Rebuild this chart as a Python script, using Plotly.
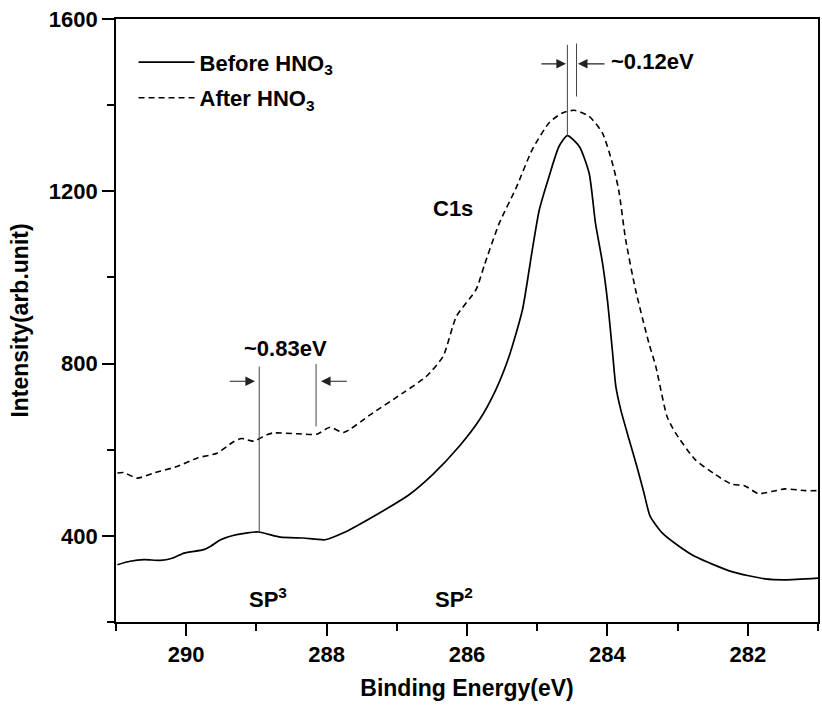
import plotly.graph_objects as go

# ---- data ----
before_ev = [290.98, 290.80, 290.60, 290.37, 290.20, 290.03, 289.75, 289.65, 289.51, 289.28,
             288.97, 288.66, 288.33, 288.02, 287.76, 287.29, 286.82, 286.49, 286.11, 285.82,
             285.59, 285.40, 285.21, 285.07, 284.97, 284.83, 284.69, 284.57, 284.40, 284.26,
             284.17, 284.07, 284.00, 283.93, 283.88, 283.81, 283.69, 283.58, 283.48, 283.39,
             283.22, 282.98, 282.75, 282.23, 281.75, 281.47, 281.00]
before_val = [333, 341, 345, 343, 348, 360, 368, 376, 391, 403,
              409, 397, 395, 391, 407, 449, 496, 542, 608, 670,
              739, 817, 925, 1064, 1157, 1235, 1304, 1329, 1304, 1242,
              1126, 1034, 948, 832, 747, 693, 623, 561, 500, 445,
              407, 376, 352, 317, 300, 298, 302]

after_ev = [290.98, 290.89, 290.70, 290.46, 290.13, 289.84, 289.56, 289.32, 289.21, 289.04,
            288.85, 288.76, 288.42, 288.14, 287.95, 287.76, 287.38, 286.91, 286.58, 286.34,
            286.15, 285.87, 285.75, 285.54, 285.30, 285.07, 284.83, 284.64, 284.47, 284.26,
            284.07, 283.93, 283.84, 283.74, 283.60, 283.41, 283.31, 283.15, 283.03, 282.75,
            282.46, 282.23, 282.04, 281.85, 281.66, 281.47, 281.18, 281.00]
after_val = [546, 547, 534, 546, 561, 581, 592, 619, 626, 620,
             635, 639, 637, 636, 652, 640, 681, 732, 770, 817,
             910, 972, 1030, 1126, 1208, 1297, 1359, 1382, 1388, 1374,
             1335, 1266, 1204, 1088, 972, 848, 793, 677, 639, 577,
             542, 520, 516, 498, 503, 509, 505, 505]

x_ticks = [290, 288, 286, 284, 282]
y_ticks = [400, 800, 1200, 1600]

# marker lines: (eV, y_from, y_to)
sp3_before = (288.96, 409, 793)
sp3_after = (288.15, 654, 799)
peak_before = (284.57, 1329, 1540)
peak_after = (284.44, 1420, 1543)

# arrows: (tail_eV, head_eV, y)
arrows = [(289.40, 289.02, 759), (287.69, 288.08, 759),
          (284.96, 284.59, 1496), (284.02, 284.42, 1496)]

labels = [
    ("~0.83eV", 288.58, 836, "center"),
    ("~0.12eV", 283.36, 1502, "center"),
    ("C1s", 286.20, 1161, "center"),
    ("SP<sup>3</sup>", 289.13, 256, "left"),
    ("SP<sup>2</sup>", 286.49, 256, "left"),
]

FONT = "Liberation Sans, Arial, sans-serif"

fig = go.Figure()
fig.add_trace(go.Scatter(x=before_ev, y=before_val, mode="lines", name="Before HNO<sub>3</sub>",
                         line=dict(color="black", width=1.7, shape="spline", smoothing=0.6),
                         legendgroup="a"))
fig.add_trace(go.Scatter(x=after_ev, y=after_val, mode="lines", name="After HNO<sub>3</sub>",
                         line=dict(color="black", width=1.6, dash="6px,4px", shape="spline", smoothing=0.6),
                         legendgroup="b"))

for (xe, y0, y1) in [sp3_before, sp3_after, peak_before, peak_after]:
    fig.add_shape(type="line", xref="x", yref="y", x0=xe, x1=xe, y0=y0, y1=y1,
                  line=dict(color="#444444", width=1))

for (tail, head, yv) in arrows:
    fig.add_annotation(x=head, y=yv, ax=tail, ay=yv, xref="x", yref="y", axref="x", ayref="y",
                       text="", showarrow=True, arrowhead=2, arrowsize=1.6, arrowwidth=1.2,
                       arrowcolor="#222222", standoff=0)

for (txt, xv, yv, anc) in labels:
    fig.add_annotation(x=xv, y=yv, xref="x", yref="y", text=txt, showarrow=False,
                       xanchor=anc, yanchor="middle",
                       font=dict(family=FONT, size=22, color="black", weight="bold"))

axis_common = dict(showline=True, linecolor="black", linewidth=1.7, mirror=True,
                   ticks="outside", tickwidth=1.5, tickcolor="black", ticklen=12,
                   showgrid=False, zeroline=False,
                   tickfont=dict(family=FONT, size=22, color="black", weight="bold"))

fig.update_xaxes(range=[291, 281], tickvals=x_ticks, ticktext=[str(v) for v in x_ticks],
                 minor=dict(dtick=1, tick0=0, ticklen=7, tickwidth=1.5, tickcolor="black", ticks="outside"),
                 title=dict(text="Binding Energy(eV)", standoff=14,
                            font=dict(family=FONT, size=23, color="black", weight="bold")),
                 **axis_common)
fig.update_yaxes(range=[200, 1600], tickvals=y_ticks, ticktext=[str(v) for v in y_ticks],
                 minor=dict(dtick=200, tick0=0, ticklen=7, tickwidth=1.5, tickcolor="black", ticks="outside"),
                 title=dict(text="Intensity(arb.unit)", standoff=14,
                            font=dict(family=FONT, size=23, color="black", weight="bold")),
                 **axis_common)

fig.update_layout(
    width=822, height=707,
    margin=dict(l=116, r=2, t=19, b=85),
    paper_bgcolor="white", plot_bgcolor="white",
    showlegend=True,
    legend=dict(x=0.025, y=0.963, xanchor="left", yanchor="top", bgcolor="rgba(0,0,0,0)",
                borderwidth=0, tracegroupgap=4, itemwidth=56,
                font=dict(family=FONT, size=22, color="black", weight="bold")),
)

fig.write_html("out.html")
